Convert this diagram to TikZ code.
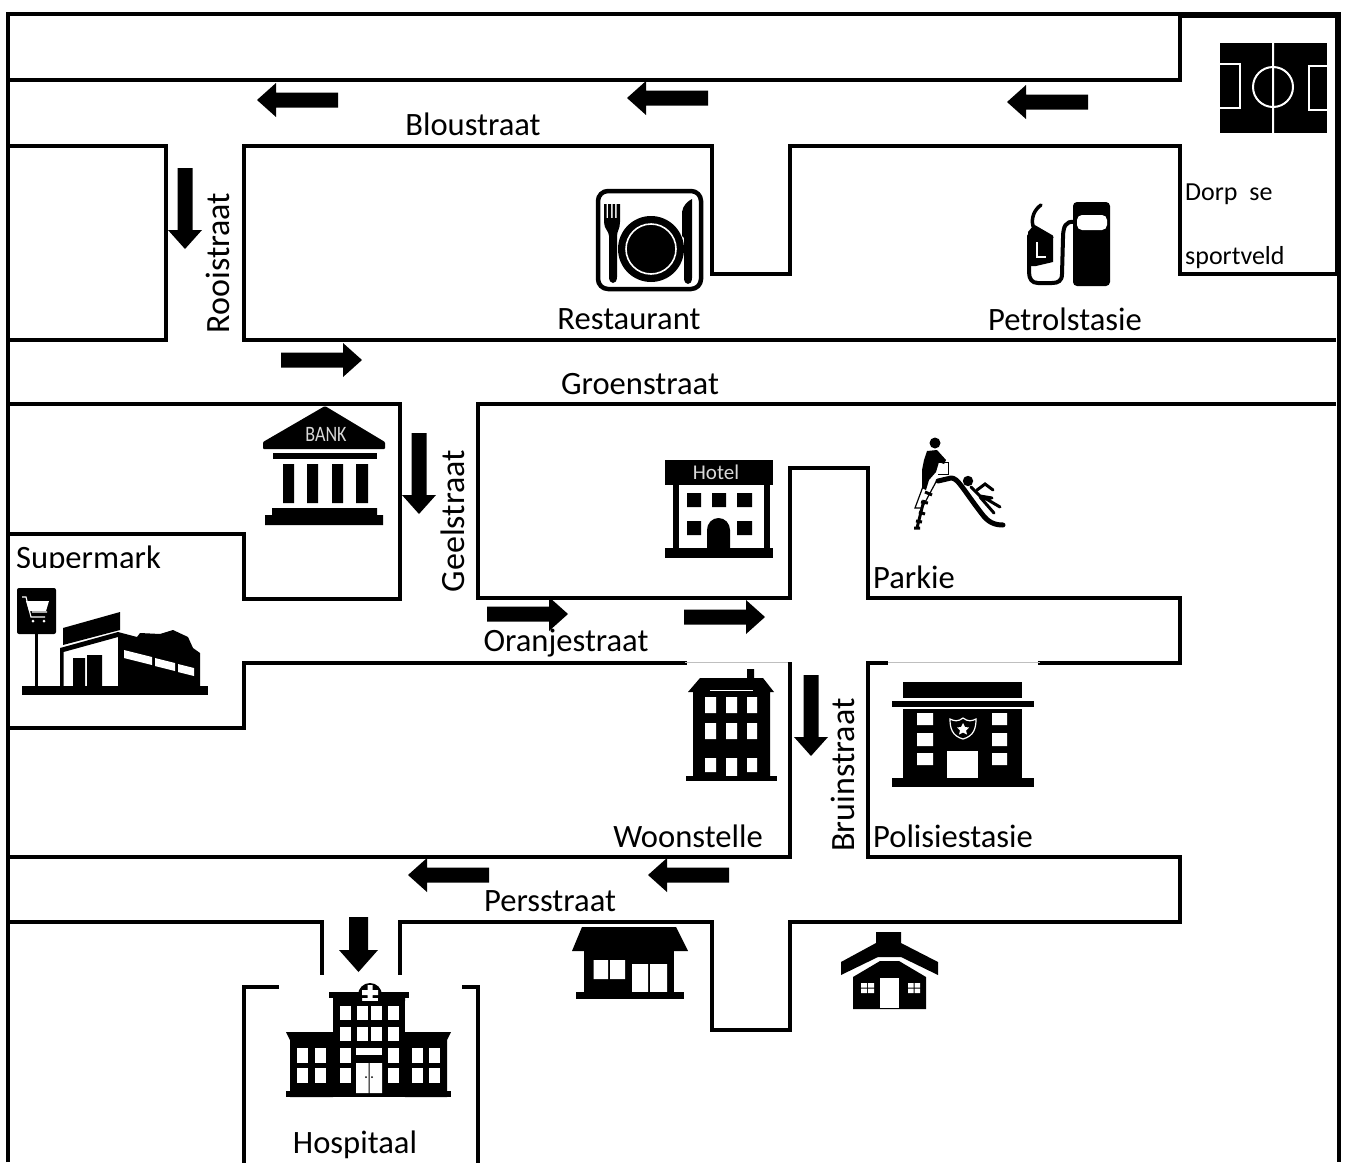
\documentclass[tikz,border=0pt]{standalone}
\usepackage{fontspec}
\setmainfont{Carlito}
\tikzset{
  wall/.style={line width=3.4pt,line cap=rect,line join=miter,black},
  thinwall/.style={line width=3.1pt,black},
  ghost/.style={line width=0.8pt,black!25},
  lbl/.style={font=\fontsize{32.6}{36}\selectfont,inner sep=0pt,text=black},
  vlbl/.style={font=\fontsize{34}{38}\selectfont,inner sep=0pt,text=black,rotate=90},
  smalllbl/.style={font=\fontsize{26}{29}\selectfont,inner sep=0pt,anchor=west},
  ink/.style={fill=black,draw=none},
  paper/.style={fill=white,draw=none},
  roadarrow/.pic={\fill[black] (0,-7.5)--(62,-7.5)--(62,-17)--(81,0)--(62,17)--(62,7.5)--(0,7.5)--cycle;}
}
\begin{document}
\begin{tikzpicture}[x=1pt,y=-1pt]
\useasboundingbox (0,0) rectangle (1349,1162);
\fill[white] (0,0) rectangle (1349,1162);
% outer frame
\draw[line width=4.5pt] (8,1162)--(8,14)--(1339,14)--(1339,1162);
% football enclosure
\draw[wall] (8,80)--(1180,80)--(1180,15);
\draw[line width=2.5pt] (1180,17)--(1336,17)--(1336,274);
\draw[wall] (1180,146)--(1180,274)--(1336,274);
% blocks
\draw[wall] (10,146)--(166,146)--(166,340)--(10,340);
\draw[wall] (244,340)--(244,146)--(712,146)--(712,274)--(790,274)--(790,146)--(1180,146);
\draw[thinwall] (244,340)--(1336,340);
\draw[wall] (10,404)--(400,404)--(400,599)--(244,599)--(244,534)--(10,534);
\draw[thinwall] (478,404)--(1336,404);
\draw[wall] (478,404)--(478,598)--(790,598)--(790,468)--(868,468)--(868,598)--(1180,598)--(1180,663)--(1040,663);
\draw[wall] (685,663)--(244,663)--(244,728)--(10,728);
\draw[ghost] (685,662)--(790,662);
\draw[ghost] (886,662)--(1040,662);
\draw[wall] (886,663)--(868,663)--(868,857)--(1180,857)--(1180,922)--(790,922)--(790,1030)--(712,1030)--(712,922)--(400,922)--(400,973);
\draw[wall] (790,664)--(790,857)--(10,857);
\draw[wall] (10,922)--(322,922)--(322,973);
\draw[wall] (277,987)--(244,987)--(244,1163);
\draw[wall] (464,987)--(478,987)--(478,1163);
% arrows
\pic[rotate=180] at (338,100) {roadarrow};
\pic[rotate=180] at (708,98) {roadarrow};
\pic[rotate=180] at (1088,102) {roadarrow};
\pic[rotate=-90] at (185,168) {roadarrow};
\pic at (281,360) {roadarrow};
\pic[rotate=-90] at (419,433) {roadarrow};
\pic at (487,614) {roadarrow};
\pic at (684,617) {roadarrow};
\pic[rotate=-90] at (811,675) {roadarrow};
\pic[rotate=180] at (489,875) {roadarrow};
\pic[rotate=180] at (729,875) {roadarrow};
\fill[ink] (349,917)--(368,917)--(368,950)--(378,950)--(358.5,972)--(339,950)--(349,950)--cycle;
% labels
\node[lbl] (blou) at (473,124) {Bloustraat};
\node[lbl] (rest) at (629,319) {Restaurant};
\node[lbl] (petrol) at (1065,319) {Petrolstasie};
\node[lbl] (groen) at (640,384) {Groenstraat};
\node[vlbl] (rooi) at (218,263) {Rooistraat};
\node[vlbl] (geel) at (453,521) {Geelstraat};
\node[lbl] (oranje) at (566,643) {Oranjestraat};
\node[lbl] (park) at (914,577) {Parkie};
\node[vlbl] (bruin) at (843,775) {Bruinstraat};
\node[lbl] (woon) at (688,836) {Woonstelle};
\node[lbl] (polisie) at (953,836) {Polisiestasie};
\node[lbl] (pers) at (550,901) {Persstraat};
\node[lbl] (hosp) at (355,1145) {Hospitaal};
\begin{scope}
\clip (10,536) rectangle (240,567);
\node[lbl,anchor=base west] (super) at (16,568) {Supermark};
\end{scope}
\node[smalllbl] (dorp) at (1185,194) {Dorp\ \ se};
\node[smalllbl] (sport) at (1185,258) {sportveld};
% football pitch
\fill[ink] (1220,43) rectangle (1327,133);
\draw[white,line width=2pt] (1273,43)--(1273,133) (1273,87) circle[radius=20];
\draw[white,line width=2pt] (1220,64)--(1240,64)--(1240,108)--(1220,108);
\draw[white,line width=2pt] (1327,66)--(1309,66)--(1309,110)--(1327,110);
% petrol pump
\fill[ink,rounded corners=4pt] (1073,202) rectangle (1110,286);
\fill[paper,rounded corners=5pt] (1077,215) rectangle (1107,230);
\draw[line width=4pt,line cap=round] (1074,222) .. controls (1066,221) and (1063,226) .. (1063,238) -- (1062,274) .. controls (1062,281) and (1058,283) .. (1052,283) -- (1038,283) .. controls (1032,283) and (1029,279) .. (1029,272) -- (1029,236);
\draw[line width=3.5pt,line cap=round] (1041,205) .. controls (1034,210) and (1031,218) .. (1033,226) -- (1052,237);
\fill[ink] (1028,232)--(1033,226)--(1053,237)--(1053,262)--(1036,266)--(1028,266)--cycle;
\draw[white,line width=1.8pt] (1037,242)--(1037,257)--(1046,257);
% restaurant
\draw[line width=4.5pt,rounded corners=10pt] (598,191) rectangle (701,289);
\fill[ink] (651,249) circle[radius=33];
\draw[white,line width=1.6pt] (651,249) circle[radius=25];
\fill[ink] (604,204)--(606.5,204)--(606.5,218)--(608,218)--(608,204)--(611,204)--(611,218)--(612.5,218)--(612.5,204)--(615,204)--(615,218)--(616.5,218)--(616.5,204)--(620,204)--(620,222) .. controls (620,229) and (617,231) .. (617,236)--(617,277) .. controls (617,285) and (609,285) .. (609,277)--(609,236) .. controls (609,231) and (604,229) .. (604,222)--cycle;
\fill[ink] (682,236)--(682,212) .. controls (683,205) and (688,201) .. (692,199)--(692,278) .. controls (692,286) and (684,286) .. (684,278)--(684,238)--cycle;
% bank
\fill[ink,rounded corners=1pt] (325,406)--(385,442)--(385,449)--(263,449)--(263,442)--cycle;
\node[font=\fontsize{22}{24}\selectfont,text=black!15,inner sep=0pt,xscale=.82] (banktxt) at (326,434) {BANK};
\fill[ink] (273,453) rectangle (377,459);
\fill[ink] (283,464) rectangle (294,503) (307,464) rectangle (318,503) (332,464) rectangle (343,503) (356,464) rectangle (368,503);
\fill[ink] (272,508) rectangle (377,515) (265,515) rectangle (383,525);
% supermarket
\fill[ink,rounded corners=2pt] (17,588) rectangle (56,634);
\draw[white,line width=1.2pt] (22,597)--(26,597)--(31,617)--(45,617) (32,612)--(47,612);
\fill[white] (26,601)--(49,601)--(46,611)--(29,611)--cycle;
\fill[white] (33,621) circle[radius=1.5] (44,621) circle[radius=1.5];
\fill[ink] (35,634) rectangle (38,686);
\fill[ink] (22,686) rectangle (208,695);
\fill[ink] (63,628)--(120,612)--(120,630)--(63,645)--cycle;
\fill[ink] (60,648)--(118,632)--(118,637)--(63.5,652)--(63.5,686)--(60,686)--cycle;
\fill[ink] (118,632)--(137,637)--(140,633)--(160,634)--(173,630)--(188,637)--(193,648)--(200,653)--(200,688)--(118,688)--cycle;
\fill[white] (124,650)--(152,657)--(152,665)--(124,658)--cycle (155,658)--(175,663)--(175,671)--(155,666)--cycle (178,664)--(194,668)--(194,676)--(178,672)--cycle;
\fill[ink] (73,658) rectangle (85,686) (87,655) rectangle (102,686);
% hotel
\fill[ink] (665,460) rectangle (773,485);
\node[font=\fontsize{21}{23}\selectfont,text=black!15,inner sep=0pt] (hoteltxt) at (716,472) {Hotel};
\fill[ink] (673,485) rectangle (770,550);
\fill[paper] (679,485) rectangle (764,550);
\fill[ink] (687,493) rectangle (701,507) (712,493) rectangle (726,507) (737,493) rectangle (752,507);
\fill[ink] (687,521) rectangle (701,535) (737,521) rectangle (752,535);
\fill[ink] (707,550)--(707,530) arc[start angle=180,end angle=360,x radius=11.5,y radius=12]--(730,550)--cycle;
\fill[ink] (665,548) rectangle (773,558);
% woonstelle
\fill[ink] (688,692)--(700,678)--(747,678)--(747,669)--(754,669)--(754,678)--(763,678)--(774,692)--(770,692)--(770,777)--(693,777)--(693,692)--cycle;
\draw[white,line width=.6pt] (710,690)--(753,690);
\fill[white] (705,697) rectangle (716,713) (726,697) rectangle (737,713) (747,697) rectangle (757,713);
\fill[white] (705,723) rectangle (716,739) (726,723) rectangle (737,739) (747,723) rectangle (757,739);
\fill[white] (705,758) rectangle (716,772) (726,758) rectangle (737,776) (747,758) rectangle (757,772);
\fill[ink] (686,776) rectangle (777,781);
% police
\fill[ink] (903,682) rectangle (1022,698);
\fill[ink] (892,701) rectangle (1034,707);
\fill[ink] (903,709) rectangle (1022,778);
\fill[white] (917,713) rectangle (933,725) (917,733) rectangle (933,746) (917,753) rectangle (933,765);
\fill[white] (992,713) rectangle (1007,725) (992,733) rectangle (1007,746) (992,753) rectangle (1007,765);
\fill[white] (947,751) rectangle (978,778);
\fill[ink] (892,778) rectangle (1034,787);
\draw[white,line width=1.2pt] (963,718) .. controls (958,722) and (954,721) .. (950,719) .. controls (950,728) and (952,736) .. (963,739) .. controls (974,736) and (976,728) .. (976,719) .. controls (972,721) and (968,722) .. (963,718) -- cycle;
\fill[white] (963,723)--(965,727)--(969,727.5)--(966,730.5)--(967,734.5)--(963,732.5)--(959,734.5)--(960,730.5)--(957,727.5)--(961,727)--cycle;
% playground
\fill[ink] (935,443) circle[radius=5.5] (968,481) circle[radius=5.2];
\fill[ink] (927,451)--(937,450)--(946,460)--(944,464)--(939,462)--(936,472)--(929,480)--(926,490)--(922,488)--(922,470)--(924,460)--cycle;
\draw[line width=1pt] (933,462)--(948,462)--(948,474)--(938,474);
\draw[line width=5pt,line cap=round,line join=round] (938,481)--(951,478) .. controls (958,478) and (962,488) .. (982,514) .. controls (988,522) and (994,525) .. (1003,525);
\draw[line width=1.2pt] (928,473)--(915,508)--(922,508)--(937,480);
\draw[line width=3pt] (925,492)--(932,495) (921,502)--(928,503) (919,512)--(925,514) (916,521)--(922,522) (914,528)--(920,528);
\draw[line width=3pt] (924,500)--(917,528);
\draw[line width=3pt,line cap=round] (971,487)--(980,496)--(992,498) (977,490)--(985,484)--(993,490) (983,497)--(1000,507) (980,497)--(994,513);
% house 1
\fill[ink] (582,927)--(676,927)--(688,951)--(572,951)--cycle;
\fill[ink] (584,951) rectangle (674,992);
\fill[white] (593.5,960) rectangle (608,979) (610,960) rectangle (625,979);
\fill[white] (632,964) rectangle (648,993) (650,964) rectangle (667,993);
\fill[ink] (576,992) rectangle (684,999);
% house 2
\fill[ink] (841,962)--(876,943)--(876,932)--(901,932)--(901,943)--(938,962)--(938,975)--(901,957)--(878,957)--(841,975)--cycle;
\fill[ink] (853,977)--(880,961)--(899,961)--(926,977)--(926,1009)--(853,1009)--cycle;
\fill[white] (880,978) rectangle (899,1008);
\fill[white] (861,983) rectangle (867,987.5) (868,983) rectangle (874,987.5) (861,988.5) rectangle (867,993) (868,988.5) rectangle (874,993);
\fill[white] (908,983) rectangle (913.5,987.5) (914.5,983) rectangle (920,987.5) (908,988.5) rectangle (913.5,993) (914.5,988.5) rectangle (920,993);
% hospital
\fill[ink] (358,995) arc[start angle=180,end angle=360,radius=12]--cycle;
\fill[ink] (329,992) rectangle (409,998);
\fill[white] (367.5,985) rectangle (372.5,1001) (362,990) rectangle (378,995);
\fill[ink] (333,998) ++(0,3) rectangle (405,1095);
\fill[ink] (333,998) rectangle (362,1001) (378,998) rectangle (405,1001);
\fill[ink] (286,1032)--(333,1032)--(333,1097)--(290,1097)--(290,1040)--cycle;
\fill[ink] (451,1032)--(405,1032)--(405,1097)--(447,1097)--(447,1040)--cycle;
\fill[ink] (286,1091) rectangle (451,1097);
\foreach \yy in {1006,1027}{\foreach \xx in {340,357,371,388}{\fill[white] (\xx,\yy) rectangle ++(10.5,14);}}
\foreach \yy in {1048,1068}{\foreach \xx in {297,315,340,388,412,429}{\fill[white] (\xx,\yy) rectangle ++(11,14.5);}}
\fill[white] (356,1048) rectangle (382,1055);
\fill[white] (356,1063) rectangle (368.5,1093) (369.5,1063) rectangle (382,1093);
\fill[ink] (366,1077) circle[radius=1] (372,1077) circle[radius=1];
\end{tikzpicture}
\end{document}
